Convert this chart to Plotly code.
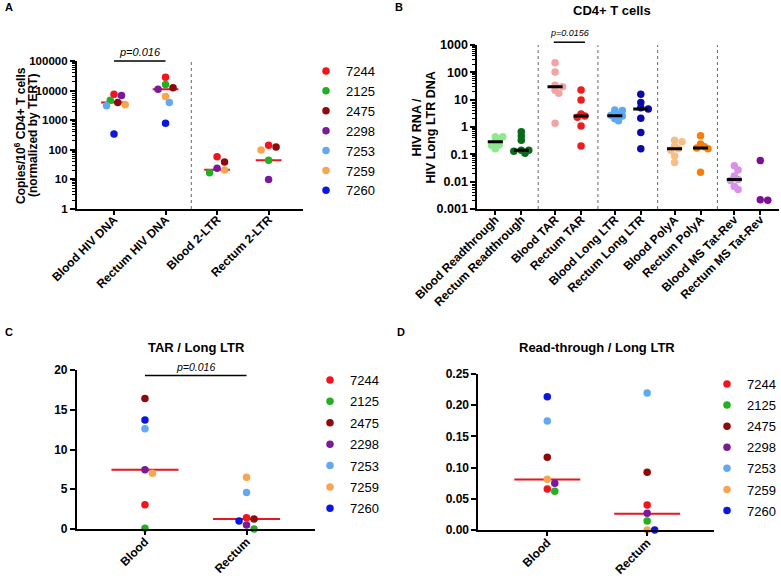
import numpy as np
import plotly.graph_objects as go

W, H = 781, 576
FONT = "Liberation Sans, Arial, sans-serif"

# patients, shared by panels A, C and D
patients = ["7244", "2125", "2475", "2298", "7253", "7259", "7260"]
patient_colors = ["#F0141E", "#22B022", "#8E0A0A", "#7A1A9A", "#62A9F2", "#F8A552", "#0B17E0"]

# panel A: copies / 10^6 CD4+ T cells, values in patient order
a_cats = ["Blood HIV DNA", "Rectum HIV DNA", "Blood 2-LTR", "Rectum 2-LTR"]
a_blood_dna = [7500, 4700, 3950, 6800, 3050, 3300, 345]
a_rectum_dna = [28000, 16000, 12600, 11000, 3950, 6300, 790]
a_blood_2ltr = [58, 16.8, 39, 23.7, None, 20.8, None]
a_rectum_2ltr = [142, 44, 124, 10, None, 98, None]
a_medians = [3950, 11000, 21, 44]

# panel B: HIV RNA / HIV long LTR DNA
b_cats = ["Blood Readthrough", "Rectum Readthrough", "Blood TAR", "Rectum TAR",
          "Blood Long LTR", "Rectum Long LTR", "Blood PolyA", "Rectum PolyA",
          "Blood MS Tat-Rev", "Rectum MS Tat-Rev"]
b_blood_rt = [0.44, 0.44, 0.36, 0.29, 0.22, 0.21, 0.16]
b_rectum_rt = [0.67, 0.47, 0.33, 0.14, 0.14, 0.13, 0.11]
b_blood_tar = [225, 103, 34, 30, 22, 17, 1.36]
b_rectum_tar = [22.5, 9.8, 3.0, 2.5, 2.25, 1.09, 0.2]
b_blood_ltr = [4.2, 4.0, 3.0, 2.7, 2.5, 2.0, 1.7]
b_rectum_ltr = [15.7, 7.8, 5.1, 4.6, 2.1, 0.63, 0.16]
b_blood_polya = [0.33, 0.29, 0.2, 0.16, 0.14, 0.087, 0.05]
b_rectum_polya = [0.48, 0.24, 0.19, 0.17, 0.16, 0.022]
b_blood_ms = [0.038, 0.027, 0.016, 0.012, 0.011, 0.0066, 0.0052]
b_rectum_ms = [0.059, 0.0021, 0.0022]
b_medians = [0.29, 0.14, 30, 2.5, 2.6, 4.6, 0.16, 0.17, 0.012, None]
b_colors = ["#8FE88F", "#0A6A1A", "#F4A3A3", "#EE1C1C", "#5EA8F4",
            "#0A0AA8", "#F9BE85", "#F57F0A", "#D890EA", "#7E0E96"]

# panel C: TAR / Long LTR
c_cats = ["Blood", "Rectum"]
c_blood = [3.05, 0.08, 16.4, 7.45, 12.6, 7.0, 13.7]
c_rectum = [1.42, 0.0, 1.26, 0.5, 4.6, 6.5, 1.0]
c_medians = [7.45, 1.26]

# panel D: Read-through / Long LTR
d_cats = ["Blood", "Rectum"]
d_blood = [0.0658, 0.062, 0.1167, 0.075, 0.1745, 0.0814, 0.2136]
d_rectum = [0.040, 0.0145, 0.0926, 0.0268, 0.2195, 0.0, 0.0]
d_medians = [0.081, 0.026]

# plot areas in pixels
geo = {
    "A": dict(l=77, r=303, t=61, b=209, xr=[-0.72, 3.66], yr=[0, 5], log=True),
    "B": dict(l=478, r=780, t=45, b=209, xr=[-0.69, 10.92], yr=[-3, 3], log=True),
    "C": dict(l=77, r=315, t=370, b=529, xr=[-0.67, 1.67], yr=[0, 20], log=False),
    "D": dict(l=479, r=715, t=374, b=530, xr=[-0.69, 1.67], yr=[0, 0.25], log=False),
}
b_pos = [g * 2.3 + k for g in range(5) for k in (0, 1)]
DOT = 7.5


def px(x):
    return x / W


def py(y):
    return 1 - y / H


def ypix(v, g):
    lo, hi = g["yr"]
    t = np.log10(v) if g["log"] else v
    return g["t"] + (hi - t) / (hi - lo) * (g["b"] - g["t"])


def swarm(vals, g, overlap=0.85):
    # greedy beeswarm: shift points sideways until they stop overlapping
    ppu = (g["r"] - g["l"]) / (g["xr"][1] - g["xr"][0])
    idx = [i for i, v in enumerate(vals) if v is not None]
    ys = {i: ypix(vals[i], g) for i in idx}
    steps = [0] + [s * k for k in range(1, 12) for s in (1, -1)]
    placed, offs = [], [None] * len(vals)
    for i in sorted(idx, key=lambda i: ys[i]):
        for s in steps:
            dx = s * DOT / 2
            if all((dx - qx) ** 2 + (ys[i] - qy) ** 2 >= (overlap * DOT) ** 2 for qx, qy in placed):
                break
        placed.append((dx, ys[i]))
        offs[i] = dx / ppu
    return offs


def median_trace(pos, meds, halfw, color, width, xa, ya):
    xs, ys = [], []
    for p, m in zip(pos, meds):
        if m is None:
            continue
        xs += [p - halfw, p + halfw, None]
        ys += [m, m, None]
    return go.Scatter(x=xs, y=ys, mode="lines", line=dict(color=color, width=width),
                      xaxis=xa, yaxis=ya, showlegend=False, hoverinfo="skip")


fig = go.Figure()

# patient panels
for key, cols, meds, xa, ya, leg, halfw in [
    ("A", [a_blood_dna, a_rectum_dna, a_blood_2ltr, a_rectum_2ltr], a_medians, "x", "y", "legend", 0.25),
    ("C", [c_blood, c_rectum], c_medians, "x3", "y3", "legend2", 0.33),
    ("D", [d_blood, d_rectum], d_medians, "x4", "y4", "legend3", 0.33),
]:
    g = geo[key]
    offs = [swarm(c, g) for c in cols]
    fig.add_trace(median_trace(range(len(cols)), meds, halfw, "#E8141E", 2, xa, ya))
    for j, (name, color) in enumerate(zip(patients, patient_colors)):
        xs = [ci + offs[ci][j] for ci, c in enumerate(cols) if c[j] is not None]
        ys = [c[j] for c in cols if c[j] is not None]
        fig.add_trace(go.Scatter(
            x=xs, y=ys, mode="markers", name=name, legend=leg,
            legendgroup=key + name,
            marker=dict(color=color, size=DOT), cliponaxis=False,
            xaxis=xa, yaxis=ya))

# panel B
b_cols = [b_blood_rt, b_rectum_rt, b_blood_tar, b_rectum_tar, b_blood_ltr,
          b_rectum_ltr, b_blood_polya, b_rectum_polya, b_blood_ms, b_rectum_ms]
for p, col, color, name in zip(b_pos, b_cols, b_colors, b_cats):
    offs = swarm(col, geo["B"], overlap=0.55)
    fig.add_trace(go.Scatter(
        x=[p + o for o in offs], y=col, mode="markers", name=name, showlegend=False,
        marker=dict(color=color, size=DOT), cliponaxis=False, xaxis="x2", yaxis="y2"))
fig.add_trace(median_trace(b_pos, b_medians, 0.29, "black", 3, "x2", "y2"))

tickfont = dict(family=FONT, size=12, color="black", weight="bold")
axis_common = dict(showline=True, linecolor="black", linewidth=2, ticks="outside",
                   tickcolor="black", tickwidth=1.5, ticklen=5, showgrid=False,
                   zeroline=False, tickfont=tickfont, automargin=False)


def log_minor(lo, hi):
    return [m * 10.0 ** k for k in range(lo, hi) for m in range(2, 10)]


layout_axes = {}
for n, key in enumerate("ABCD", start=1):
    g = geo[key]
    sx = "" if n == 1 else str(n)
    layout_axes["xaxis" + sx] = dict(axis_common, domain=[px(g["l"]), px(g["r"])],
                                     range=g["xr"], anchor="y" + sx, tickangle=-45,
                                     ticklen=4, ticklabelstandoff=-7 if key in "AB" else -5)
    layout_axes["yaxis" + sx] = dict(axis_common, domain=[py(g["b"]), py(g["t"])],
                                     range=g["yr"], anchor="x" + sx)

layout_axes["xaxis"].update(tickvals=list(range(4)), ticktext=a_cats)
layout_axes["yaxis"].update(type="log", tickvals=[10 ** k for k in range(6)],
                            ticktext=[str(10 ** k) for k in range(6)],
                            tickfont=dict(tickfont, size=11.5),
                            minor=dict(tickvals=log_minor(0, 5), ticks="outside", ticklen=3,
                                       tickcolor="black", tickwidth=1))
layout_axes["xaxis2"].update(tickvals=b_pos, ticktext=b_cats)
layout_axes["yaxis2"].update(type="log", tickvals=[10.0 ** k for k in range(-3, 4)],
                             ticktext=["0.001", "0.01", "0.1", "1", "10", "100", "1000"],
                             tickfont=dict(tickfont, size=12.5),
                             minor=dict(tickvals=log_minor(-3, 3), ticks="outside", ticklen=3,
                                        tickcolor="black", tickwidth=1))
layout_axes["xaxis3"].update(tickvals=[0, 1], ticktext=c_cats)
layout_axes["yaxis3"].update(tickvals=[0, 5, 10, 15, 20])
layout_axes["xaxis4"].update(tickvals=[0, 1], ticktext=d_cats)
layout_axes["yaxis4"].update(tickvals=[0, 0.05, 0.1, 0.15, 0.2, 0.25], tickformat=".2f")

shapes = []
# dotted separators
for xa, ya, xs in [("x", "y", [1.5]), ("x2", "y2", [b_pos[2 * k + 1] + 0.65 for k in range(4)])]:
    for x in xs:
        shapes.append(dict(type="line", xref=xa, yref=ya + " domain", x0=x, x1=x, y0=0, y1=1,
                           line=dict(color="#666", width=1, dash="dot")))
# significance bars
shapes.append(dict(type="line", xref="x", yref="y domain", x0=0, x1=1, y0=1, y1=1,
                   line=dict(color="black", width=1.5)))
shapes.append(dict(type="line", xref="x2", yref="y2 domain", x0=b_pos[2] - 0.05, x1=b_pos[3] + 0.15,
                   y0=1.017, y1=1.017, line=dict(color="black", width=1.5)))
shapes.append(dict(type="line", xref="x3", yref="y3", x0=0, x1=1, y0=19.3, y1=19.3,
                   line=dict(color="black", width=1.5)))

annotations = []


def note(text, x, y, size, bold=False, italic=False, angle=0, anchor="center"):
    t = text
    if bold:
        t = "<b>" + t + "</b>"
    if italic:
        t = "<i>" + t + "</i>"
    annotations.append(dict(text=t, x=px(x), y=py(y), xref="paper", yref="paper",
                            showarrow=False, textangle=angle, xanchor=anchor, yanchor="middle",
                            font=dict(family=FONT, size=size, color="black")))


note("A", 3, 7, 11, bold=True, anchor="left")
note("B", 394, 7, 11, bold=True, anchor="left")
note("C", 3, 332, 11, bold=True, anchor="left")
note("D", 396, 332, 11, bold=True, anchor="left")
note("CD4+ T cells", 613, 11, 13, bold=True)
note("TAR / Long LTR", 197, 347, 13, bold=True)
note("Read-through / Long LTR", 598, 347, 13, bold=True)
note("Copies/10<sup>6</sup> CD4+ T cells", 20, 135, 12, bold=True, angle=-90)
note("(normalized by TERT)", 33, 135, 12, bold=True, angle=-90)
note("HIV RNA /", 418, 127, 12.5, bold=True, angle=-90)
note("HIV Long LTR DNA", 432, 127, 12.5, bold=True, angle=-90)
note("p=0.016", 140, 52, 11, italic=True)
note("p=0.0156", 570, 33, 9, italic=True)
note("p=0.016", 196, 367, 10.5, italic=True)

legend_common = dict(font=dict(family=FONT, size=13, color="black"), bgcolor="rgba(0,0,0,0)",
                     xanchor="left", yanchor="top", itemclick=False, itemdoubleclick=False,
                     traceorder="grouped", tracegroupgap=0)

fig.update_layout(
    width=W, height=H, margin=dict(l=0, r=0, t=0, b=0),
    paper_bgcolor="white", plot_bgcolor="white",
    font=dict(family=FONT, color="black"),
    shapes=shapes, annotations=annotations,
    legend=dict(legend_common, x=px(306), y=py(56)),
    legend2=dict(legend_common, x=px(310), y=py(365), tracegroupgap=1.5),
    legend3=dict(legend_common, x=px(708), y=py(369), tracegroupgap=1.2),
    **layout_axes,
)

fig.write_html("out.html", config={"displayModeBar": False},
               post_script="document.body.style.margin = '0px';")
